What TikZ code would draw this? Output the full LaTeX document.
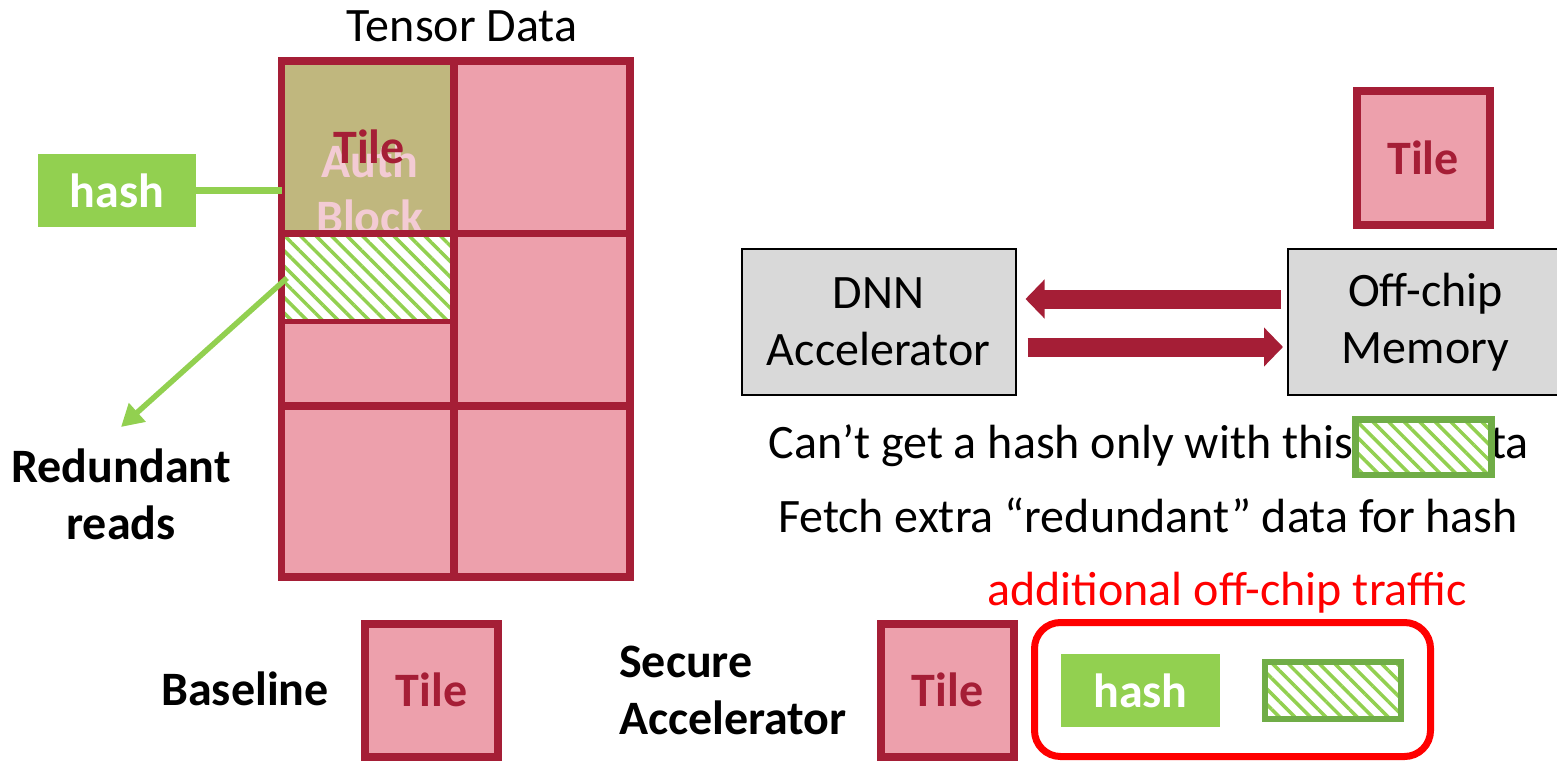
\documentclass[tikz,border=0pt]{standalone}
\usepackage{fontspec}
\setmainfont{Carlito}
\usetikzlibrary{arrows.meta,patterns.meta}

\definecolor{tilered}{RGB}{165,30,54}
\definecolor{tilepink}{RGB}{237,160,172}
\definecolor{autholive}{RGB}{192,183,126}
\definecolor{hashgreen}{RGB}{146,208,80}
\definecolor{edgegreen}{RGB}{112,173,71}
\definecolor{boxgray}{RGB}{217,217,217}
\definecolor{authtext}{RGB}{243,203,212}
\definecolor{alertred}{RGB}{255,0,0}

\tikzset{
  big/.style={font=\fontsize{48}{57}\selectfont, inner sep=0pt},
  bigbold/.style={font=\fontsize{48}{57}\selectfont\bfseries, inner sep=0pt},
  tilebox/.style={draw=tilered, fill=tilepink, line width=8pt,
    minimum width=133pt, minimum height=133pt,
    font=\fontsize{48}{57}\selectfont\bfseries, text=tilered},
  hashbox/.style={fill=hashgreen, minimum width=158pt, minimum height=73pt,
    font=\fontsize{48}{57}\selectfont\bfseries, text=white},
  hatched/.style={preaction={fill=white},
    pattern={Lines[angle=-45,distance=11pt,line width=3.5pt]},
    pattern color=hashgreen},
  hatchbox/.style={hatched, draw=edgegreen, line width=6.5pt},
  unitbox/.style={draw=black, fill=boxgray, line width=2pt,
    minimum width=274pt, minimum height=146pt, align=center,
    font=\fontsize{48}{57}\selectfont},
  busarrow/.style={draw=tilered, line width=19pt,
    -{Triangle[length=19pt,width=38pt]}},
  greenlink/.style={draw=hashgreen, line width=7pt},
}

\begin{document}
\begin{tikzpicture}[x=1pt,y=-1pt]
\useasboundingbox (0,0) rectangle (1557,760);
\clip (0,0) rectangle (1557,760);

% ---------------- tensor grid ----------------
\node[big, anchor=base] (title) at (462,42) {Tensor Data};

\fill[tilepink] (281.5,61) rectangle (630,577);
\fill[autholive] (281.5,61) rectangle (454,233.5);
\begin{scope}
  \clip (285,65) rectangle (450,229.5);
  \node[bigbold, text=authtext, anchor=base] (authA) at (370,177) {Auth};
  \node[bigbold, text=authtext, anchor=base] (authB) at (370,233) {Block};
\end{scope}
\node[bigbold, text=tilered, anchor=base] (tileA) at (369,163) {Tile};

\path[hatched] (285,237) rectangle (451,319);
\node[minimum width=166pt, minimum height=82pt, inner sep=0pt, outer sep=0pt]
  (hatch) at (368,278) {};

\draw[tilered, line width=7.5pt]
  (281.5,61) rectangle (630,577)
  (454,61) -- (454,577)
  (281.5,233.5) -- (630,233.5)
  (281.5,406) -- (630,406);
\draw[tilered, line width=5pt] (281.5,321.5) -- (454,321.5);
\node[inner sep=0pt, outer sep=0pt, minimum width=348.5pt, minimum height=516pt]
  (grid) at (455.75,319) {};

% hash attached to the tile
\node[hashbox] (hashA) at (117,190.5) {hash};
\draw[greenlink] (hashA.east) -- (hashA.east -| grid.west);

% redundant reads
\node[bigbold, align=center] (redund) at (121,494) {Redundant\\reads};
\coordinate (redtip) at (121,427);
\draw[draw=hashgreen, line width=5.5pt, -{Triangle[length=22pt,width=24pt]}]
  ([xshift=2pt]hatch.west) -- (redtip);

% ---------------- accelerator / memory ----------------
\node[tilebox, minimum height=134pt] (tileB) at (1423,157.5) {Tile};

\node[unitbox] (dnn) at (878.5,322) {DNN\\Accelerator};
\node[unitbox, minimum width=275pt] (mem) at (1425.5,322) {Off-chip\\Memory};

\draw[busarrow, shorten <=6pt, shorten >=9pt]
  ([yshift=23pt]mem.west) -- ([yshift=23pt]dnn.east);
\draw[busarrow, shorten <=11pt, shorten >=4pt]
  ([yshift=-25pt]dnn.east) -- ([yshift=-25pt]mem.west);

\node[big, anchor=base east] (line1) at (1529,458)
  {Can’t get a hash only with this\hspace{89pt}data};
\node[hatchbox, minimum width=136pt, minimum height=55.5pt] (hatchA) at (1423.5,447) {};
\node[big, anchor=base] (line2) at (1148,532) {Fetch extra “redundant” data for hash};

% ---------------- bottom comparison ----------------
\node[bigbold, anchor=base] (base) at (245,705) {Baseline};
\node[tilebox] (tileC) at (431.5,690) {Tile};

\node[bigbold, align=left, anchor=west] (secure) at (619,690) {Secure\\Accelerator};
\node[tilebox] (tileD) at (947.5,690) {Tile};

\node[big, text=alertred, anchor=base] (extra) at (1227,605) {additional off-chip traffic};
\draw[alertred, line width=7pt, rounded corners=26pt]
  (1034.5,622.5) rectangle (1430.5,756.5);
\node[hashbox, minimum width=159pt] (hashB) at (1140.5,690.5) {hash};
\node[hatchbox, minimum width=136pt, minimum height=57pt] (hatchB) at (1333,690.5) {};

\end{tikzpicture}
\end{document}
